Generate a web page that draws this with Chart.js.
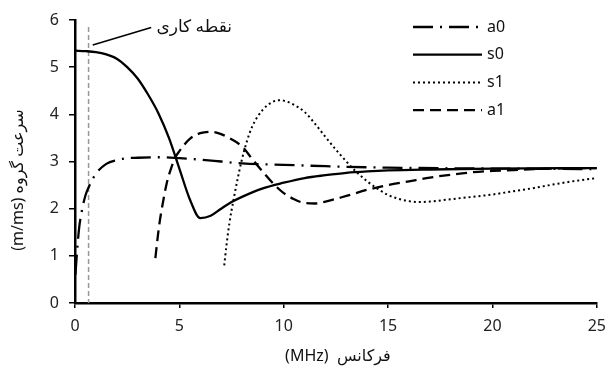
<!DOCTYPE html>
<html>
<head>
<meta charset="utf-8">
<script src="https://cdn.jsdelivr.net/npm/chart.js@4.4.1/dist/chart.umd.min.js"></script>
<style>
  html, body { margin: 0; padding: 0; background: #fff; }
  #wrap { width: 615px; height: 369px; }
</style>
</head>
<body>
<div id="wrap"><canvas id="groupChart"></canvas></div>
<script>
// group velocity (m/ms) vs frequency (MHz)
const seriesNames = ['a0', 's0', 's1', 'a1'];

const a0X = [0.02, 0.1, 0.2, 0.35, 0.5, 0.7, 1, 1.5, 2, 2.5, 3, 4, 5, 6, 7, 8, 10, 12, 15, 20, 25];
const a0Y = [0.6, 1.1, 1.6, 2.0, 2.28, 2.5, 2.74, 2.95, 3.03, 3.07, 3.08, 3.09, 3.07, 3.04, 3.0, 2.96, 2.93, 2.9, 2.87, 2.85, 2.84];

const s0X = [0, 0.5, 1, 1.5, 2, 2.5, 3, 3.5, 4, 4.5, 5, 5.5, 6, 6.5, 7, 7.5, 8, 9, 10, 11, 12, 13, 14, 15, 17, 20, 25];
const s0Y = [5.35, 5.34, 5.32, 5.27, 5.18, 5.0, 4.76, 4.42, 4.02, 3.5, 2.85, 2.2, 1.8, 1.85, 2.0, 2.14, 2.25, 2.43, 2.55, 2.65, 2.71, 2.76, 2.79, 2.81, 2.83, 2.85, 2.86];

const s1X = [7.15, 7.25, 7.4, 7.6, 7.8, 8, 8.25, 8.5, 9, 9.5, 9.8, 10, 10.5, 11, 11.5, 12, 12.5, 13, 13.5, 14, 14.5, 15, 15.5, 16, 16.5, 17, 18, 19, 20, 21, 22, 23, 24, 25];
const s1Y = [0.8, 1.2, 1.7, 2.2, 2.65, 3.05, 3.45, 3.75, 4.1, 4.27, 4.3, 4.29, 4.2, 4.05, 3.8, 3.52, 3.25, 3.0, 2.77, 2.58, 2.42, 2.29, 2.21, 2.16, 2.14, 2.15, 2.2, 2.25, 2.3, 2.37, 2.44, 2.52, 2.59, 2.65];

const a1X = [3.85, 3.95, 4.05, 4.2, 4.4, 4.6, 4.8, 5, 5.5, 6, 6.5, 7, 7.5, 8, 8.5, 9, 9.5, 10, 10.5, 11, 11.5, 12, 13, 14, 15, 16, 17, 18, 19, 20, 21, 22, 23, 24, 25];
const a1Y = [0.95, 1.35, 1.7, 2.1, 2.55, 2.85, 3.08, 3.22, 3.48, 3.6, 3.63, 3.58, 3.47, 3.32, 3.05, 2.78, 2.53, 2.33, 2.2, 2.12, 2.11, 2.15, 2.27, 2.4, 2.5, 2.58, 2.66, 2.72, 2.77, 2.8, 2.82, 2.84, 2.85, 2.86, 2.86];

const workX = 0.65;   // operating point frequency
const workLabel = 'نقطه کاری';
const xTitle = 'فرکانس  (MHz)';
const yTitle = 'سرعت گروه (m/ms)';

const FONT = '"Noto Sans", "DejaVu Sans", sans-serif';

function toPoints(xs, ys) {
    return xs.map((x, i) => ({ x: x, y: ys[i] }));
}

const dashes = {
    a0: [20, 7, 2, 7],
    s0: [],
    s1: [2, 3],
    a1: [11, 6]
};

// operating point marker + annotation
const markerPlugin = {
    id: 'marker',
    beforeDatasetsDraw(chart) {
        const ctx = chart.ctx;
        const xs = chart.scales.x, ys = chart.scales.y;
        const px = xs.getPixelForValue(workX);
        ctx.save();
        ctx.strokeStyle = '#999';
        ctx.lineWidth = 1.5;
        ctx.setLineDash([5, 3]);
        ctx.beginPath();
        ctx.moveTo(px, ys.getPixelForValue(5.85));
        ctx.lineTo(px, ys.getPixelForValue(0));
        ctx.stroke();
        ctx.restore();
    },
    afterDatasetsDraw(chart) {
        const ctx = chart.ctx;
        const xs = chart.scales.x, ys = chart.scales.y;
        ctx.save();
        ctx.strokeStyle = '#000';
        ctx.lineWidth = 1.5;
        ctx.beginPath();
        ctx.moveTo(xs.getPixelForValue(0.85), ys.getPixelForValue(5.47));
        ctx.lineTo(xs.getPixelForValue(3.65), ys.getPixelForValue(5.84));
        ctx.stroke();
        ctx.fillStyle = '#111';
        ctx.font = '17px ' + FONT;
        ctx.direction = 'rtl';
        ctx.textAlign = 'left';
        ctx.textBaseline = 'middle';
        ctx.fillText(workLabel, xs.getPixelForValue(3.9), ys.getPixelForValue(5.85));
        ctx.restore();
    }
};

// axis titles and legend drawn by hand
const labelsPlugin = {
    id: 'labels',
    afterDraw(chart) {
        const ctx = chart.ctx;
        const area = chart.chartArea;
        ctx.save();
        ctx.fillStyle = '#111';
        ctx.font = '16px ' + FONT;
        ctx.direction = 'rtl';
        ctx.textAlign = 'center';
        ctx.textBaseline = 'middle';
        ctx.fillText(xTitle, (area.left + area.right) / 2 + 2, 356);

        ctx.translate(18, 180);
        ctx.rotate(-Math.PI / 2);
        ctx.fillText(yTitle, 0, 0);
        ctx.restore();

        // legend
        ctx.save();
        ctx.font = '16px ' + FONT;
        ctx.textBaseline = 'middle';
        ctx.textAlign = 'left';
        chart.data.datasets.forEach((ds, i) => {
            const y = 27 + i * 27.7;
            ctx.strokeStyle = '#000';
            ctx.lineWidth = ds.borderWidth;
            ctx.setLineDash(ds.borderDash);
            ctx.beginPath();
            ctx.moveTo(413, y);
            ctx.lineTo(482, y);
            ctx.stroke();
            ctx.setLineDash([]);
            ctx.fillStyle = '#111';
            ctx.fillText(ds.label, 487, y);
        });
        ctx.restore();
    }
};

function makeSet(name, xs, ys, width) {
    return {
        label: name,
        data: toPoints(xs, ys),
        borderColor: '#000',
        borderWidth: width,
        borderDash: dashes[name],
        pointRadius: 0,
        fill: false,
        cubicInterpolationMode: 'monotone'
    };
}

new Chart(document.getElementById('groupChart'), {
    type: 'line',
    data: {
        datasets: [
            makeSet('a0', a0X, a0Y, 2.3),
            makeSet('s0', s0X, s0Y, 2.3),
            makeSet('s1', s1X, s1Y, 2),
            makeSet('a1', a1X, a1Y, 2.3)
        ]
    },
    options: {
        responsive: true,
        maintainAspectRatio: false,
        animation: false,
        layout: { padding: { left: 0, right: 13, top: 20, bottom: 0 } },
        scales: {
            x: {
                type: 'linear',
                min: 0,
                max: 25,
                afterFit: scale => { scale.height = 66; },
                ticks: { stepSize: 5, color: '#222', font: { size: 16, family: FONT }, padding: 9, maxRotation: 0 },
                grid: { drawOnChartArea: false, drawTicks: true, tickLength: 5, color: '#000', lineWidth: 1.5 },
                border: { display: true, color: '#000', width: 2.5 }
            },
            y: {
                min: 0,
                max: 6,
                afterFit: scale => { scale.width = 75; },
                ticks: { stepSize: 1, color: '#222', font: { size: 16, family: FONT }, padding: 10 },
                grid: { drawOnChartArea: false, drawTicks: true, tickLength: 6, color: '#000', lineWidth: 1.5 },
                border: { display: true, color: '#000', width: 2.5 }
            }
        },
        plugins: {
            legend: { display: false },
            tooltip: { enabled: false }
        }
    },
    plugins: [markerPlugin, labelsPlugin]
});
</script>
</body>
</html>
